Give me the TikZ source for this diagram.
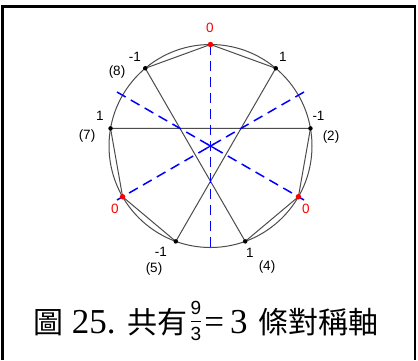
\documentclass[tikz,border=0pt]{standalone}
\usepackage{amsmath}
\usepackage{fontspec}
\usetikzlibrary{calc}
\setmainfont{Liberation Serif}
\newfontfamily\ser{Liberation Serif}
\newfontfamily\lab{Liberation Sans}
\newfontfamily\cjk{Noto Sans CJK TC}
\newcommand{\fracdig}[1]{\mbox{\lab #1}}
\begin{document}
\begin{tikzpicture}[x=1pt,y=-1pt,
  chord/.style={draw=black!70,line width=1pt},
  axis/.style={draw=blue,line width=1.5pt,dash pattern=on 10pt off 6pt},
  bdot/.style={circle,fill=black,inner sep=0pt,minimum size=4.5pt},
  rdot/.style={circle,fill=red,inner sep=0pt,minimum size=5.5pt},
  lbl/.style={font=\lab\fontsize{13.5}{14}\selectfont,inner sep=0pt},
  rlbl/.style={lbl,text=red}]
\useasboundingbox (0,0) rectangle (418,360);
\fill[white] (0,0) rectangle (418,360);
% frame (open at bottom)
\draw[line width=3pt] (2.5,360) -- (2.5,6.5) -- (416,6.5);
\draw[line width=2pt] (415.3,6.5) -- (415.3,360);
% circle
\coordinate (C) at (210.5,146);
\draw[chord] (C) circle (101.5);
% points
\foreach \a/\n in {90/p0,50/p1,10/p2,-30/p3,-70/p4,-110/p5,-150/p6,170/p7,130/p8}
  \coordinate (\n) at ({210.5+101.5*cos(\a)},{146-101.5*sin(\a)});
% chords
\draw[chord] (p4) -- (p8) -- (p0) -- (p1) -- (p5) -- (p6) -- (p7) -- (p2) -- (p3) -- cycle;
% symmetry axes
\coordinate (v2) at (210.5,252);
\coordinate (a1) at ({210.5+108*cos(30)},{146-108*sin(30)});
\coordinate (a2) at ({210.5-108*cos(30)},{146+108*sin(30)});
\coordinate (b1) at ({210.5-108*cos(30)},{146-108*sin(30)});
\coordinate (b2) at ({210.5+108*cos(30)},{146+108*sin(30)});
\draw[axis] (p0) -- (v2);
\draw[axis] (a1) -- (a2);
\draw[axis] (b1) -- (b2);
% centre asterisk
\foreach \t in {90,30,150}
  \draw[blue,line width=1.3pt] ($(C)+(\t:4)$) -- ($(C)-(\t:4)$);
% dots
\foreach \n/\s in {p0/rdot,p1/bdot,p2/bdot,p3/rdot,p4/bdot,p5/bdot,p6/rdot,p7/bdot,p8/bdot}
  \node[\s] (d\n) at (\n) {};
% labels
\node[rlbl] (l0) at (210,28) {0};
\node[lbl] (l1) at (283,57) {1};
\node[lbl] (l2) at (318.5,116) {-1};
\node[lbl] (n2) at (331,137) {(2)};
\node[rlbl] (l3) at (306,209) {0};
\node[lbl] (l4) at (250,253) {1};
\node[lbl] (n4) at (267,267) {(4)};
\node[lbl] (l5) at (161,252) {-1};
\node[lbl] (n5) at (154,269) {(5)};
\node[rlbl] (l6) at (115,209) {0};
\node[lbl] (l7) at (100,116) {1};
\node[lbl] (n7) at (87,136) {(7)};
\node[lbl] (l8) at (135,57) {-1};
\node[lbl] (n8) at (117,72) {(8)};
% caption
\node[anchor=base west,inner sep=0pt,font=\ser\fontsize{35}{40}\selectfont] (cap) at (33,333)
 {{\cjk\fontsize{30}{36}\selectfont 圖} 25. {\cjk\fontsize{30}{36}\selectfont 共有}\hspace{2pt}\raisebox{7pt}{\fontsize{19}{20}\selectfont$\genfrac{}{}{1.6pt}{0}{\fracdig{9}}{\fracdig{3}}$}\hspace{2pt}=\hspace{6pt}3\hspace{2pt} {\cjk\fontsize{30}{36}\selectfont 條對稱軸}};
\end{tikzpicture}
\end{document}
